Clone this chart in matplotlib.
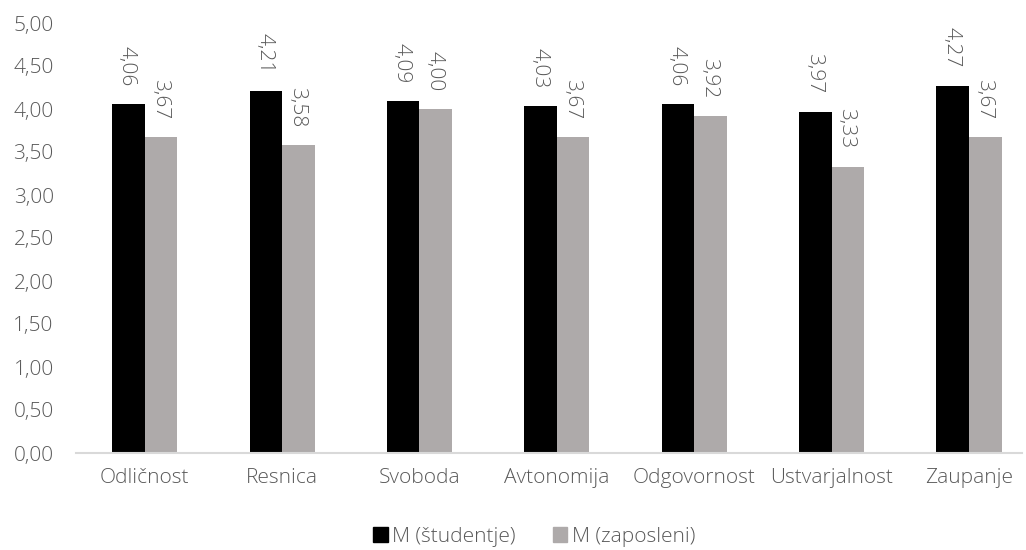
import numpy as np
import matplotlib.pyplot as plt
from matplotlib.patches import Patch

categories = ['Odličnost', 'Resnica', 'Svoboda', 'Avtonomija', 'Odgovornost', 'Ustvarjalnost', 'Zaupanje']
studentje = [4.06, 4.21, 4.09, 4.03, 4.06, 3.97, 4.27]
zaposleni = [3.67, 3.58, 4.00, 3.67, 3.92, 3.33, 3.67]
yticks = [0, 0.5, 1, 1.5, 2, 2.5, 3, 3.5, 4, 4.5, 5]

black = '#000000'
grey = '#AEAAAA'
txt = '#595959'

plt.rcParams['font.family'] = ['Open Sans', 'DejaVu Sans']
plt.rcParams['font.weight'] = 'light'

fig = plt.figure(figsize=(10.26, 5.5), dpi=100)
ax = fig.add_axes([76 / 1026, 97 / 550, (1022 - 76) / 1026, 430 / 550])

x = np.arange(len(categories))
w = 0.237
b1 = ax.bar(x - w / 2, studentje, w, color=black, label='M (študentje)')
b2 = ax.bar(x + w / 2, zaposleni, w, color=grey, label='M (zaposleni)')

def fmt(v):
    return f'{v:.2f}'.replace('.', ',')

for bars, vals in [(b1, studentje), (b2, zaposleni)]:
    for r, v in zip(bars, vals):
        ax.annotate(fmt(v), (r.get_x() + r.get_width() / 2 - 0.01, v),
                    xytext=(0, 13), textcoords='offset points',
                    rotation=-90, ha='center', va='bottom',
                    fontsize=15, color=txt)

ax.set_xlim(-0.5, 6.386)
ax.set_ylim(0, 5)
ax.set_yticks(yticks)
ax.set_yticklabels([fmt(t) for t in yticks])
ax.set_xticks(x)
ax.set_xticklabels(categories)
ax.tick_params(axis='both', length=0, labelsize=15, labelcolor=txt)
ax.tick_params(axis='x', pad=11)
ax.tick_params(axis='y', pad=16)

for s in ['top', 'right', 'left']:
    ax.spines[s].set_visible(False)
ax.spines['bottom'].set_color('#D9D9D9')
ax.spines['bottom'].set_linewidth(1.5)

handles = [Patch(color=black), Patch(color=grey)]
fig.legend(handles, ['M (študentje)', 'M (zaposleni)'], loc='center',
           bbox_to_anchor=(534 / 1026, 1 - 537 / 550), ncol=2, frameon=False,
           fontsize=15, labelcolor=txt, handlelength=0.7, handleheight=0.7,
           handletextpad=0.2, columnspacing=1.8)

fig.savefig('out.png', dpi=100)
